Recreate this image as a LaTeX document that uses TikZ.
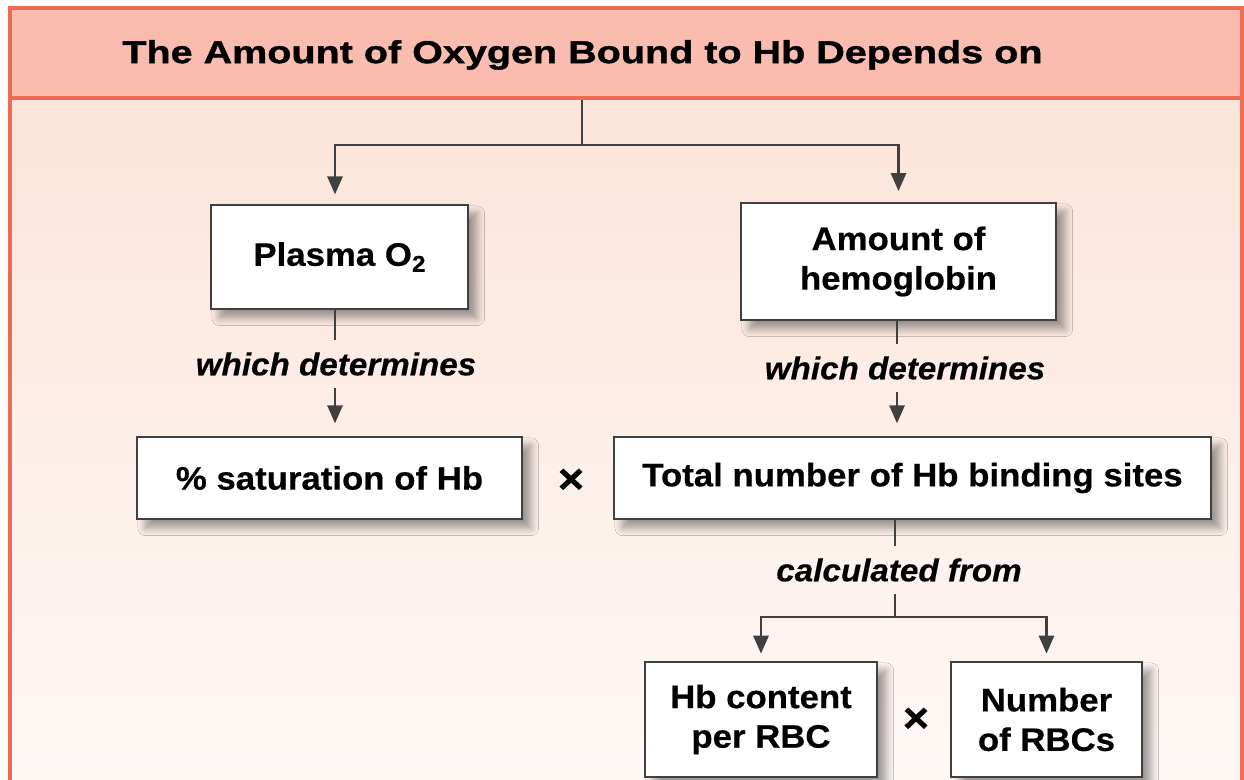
\documentclass[tikz,border=0pt]{standalone}
\usepackage{fontspec}
\setmainfont{Liberation Sans}
\newfontfamily\wideface[FakeStretch=1.25,FakeBold=1.2]{Liberation Sans Bold}
\newfontfamily\boxface[FakeStretch=1.07,FakeBold=0.5]{Liberation Sans Bold}
\newfontfamily\lblface[FakeStretch=1.05,FakeBold=0.4]{Liberation Sans Bold Italic}
\usepackage{tikz}
\usetikzlibrary{arrows.meta,shadows.blur}

\definecolor{panelEdge}{HTML}{EE6B52}
\definecolor{headFill}{HTML}{FABCAE}
\definecolor{bgTop}{HTML}{FCE2D6}
\definecolor{bgBot}{HTML}{FEF9F7}
\definecolor{lineGray}{HTML}{404040}

\newcommand{\titlefont}{\wideface\fontsize{18}{22}\selectfont}
\newcommand{\boxfont}{\boxface\fontsize{18.5}{22.5}\selectfont}
\newcommand{\lblfont}{\lblface\fontsize{18}{21}\selectfont}
\newcommand{\sub}[1]{\raisebox{-0.35ex}{\fontsize{13}{13}\selectfont #1}}

\tikzset{
  box/.style={draw=lineGray, line width=1.5pt, fill=white, align=center,
    font=\boxfont, inner sep=0pt,
    blur shadow={shadow xshift=5pt, shadow yshift=-5pt, shadow blur steps=8,
      shadow blur radius=4.5pt, shadow opacity=40}},
  lbl/.style={font=\lblfont, inner xsep=0pt, inner ysep=7pt},
  times/.style={font=\boxface\fontsize{24}{24}\selectfont, inner sep=0pt},
  link/.style={draw=lineGray, line width=1.6pt},
  arr/.style={link, -{Triangle[length=0.36cm,width=0.3cm]}}
}

\begin{document}
\begin{tikzpicture}[x=0.02cm,y=-0.02cm]
  \useasboundingbox (0,0) rectangle (1244,780);
  \clip (0,0) rectangle (1244,780);

  % panel and heading band
  \shade[top color=bgTop, bottom color=bgBot] (10,8) rectangle (1242,820);
  \draw[panelEdge, line width=1.8pt] (10,8) rectangle (1242,820);
  \node[fill=headFill, draw=panelEdge, line width=1.8pt, inner sep=0pt,
    minimum width=24.64cm, minimum height=1.8cm] (band) at (626,53) {};
  \node[font=\titlefont, anchor=west, inner sep=0pt] (title) at (122,55)
    {The Amount of Oxygen Bound to Hb Depends on};

  % first row
  \node[box, minimum width=5.14cm, minimum height=2.08cm] (plasma) at (339.5,257)
    {Plasma O\sub{2}};
  \node[box, minimum width=6.30cm, minimum height=2.34cm] (amount) at (898.5,261.5)
    {Amount of\\hemoglobin};

  % second row
  \node[box, minimum width=7.70cm, minimum height=1.64cm] (sat) at (329.5,478)
    {\% saturation of Hb};
  \node[box, minimum width=11.94cm, minimum height=1.64cm] (total) at (912.5,478)
    {Total number of Hb binding sites};
  \node[times] (x1) at (571,481) {×};

  % third row
  \node[box, minimum width=4.64cm, minimum height=2.30cm] (hbc) at (761,719.5)
    {Hb content\\per RBC};
  \node[box, minimum width=3.82cm, minimum height=2.30cm] (rbc) at (1046.5,719.5)
    {Number\\of RBCs};
  \node[times] (x2) at (916,720) {×};

  % labels
  \node[lbl] (wd1) at (336,364) {which determines};
  \node[lbl] (wd2) at (905,368) {which determines};
  \node[lbl] (calc) at (899,570) {calculated from};

  % connectors
  \coordinate (split1) at (582,145);
  \coordinate (split2) at (895,617);
  \draw[link] (band.south -| split1) -- (split1);
  \draw[arr, shorten >=6pt] (split1) -| (335,205);
  \draw[arr, shorten >=6pt] (split1) -| (amount.north);

  \draw[link] (plasma.south -| 335,0) -- (335,0 |- wd1.north);
  \draw[arr] (335,0 |- wd1.south) -- ([yshift=7pt]335,0 |- sat.north);

  \draw[link] (amount.south -| 897,0) -- (897,0 |- wd2.north);
  \draw[arr] (897,0 |- wd2.south) -- ([yshift=7pt]897,0 |- total.north);

  \draw[link] (total.south -| split2) -- (split2 |- calc.north);
  \draw[link] (split2 |- calc.south) -- (split2);
  \draw[arr, shorten >=4pt] (split2) -| (hbc.north);
  \draw[arr, shorten >=4pt] (split2) -| (rbc.north);
\end{tikzpicture}
\end{document}
